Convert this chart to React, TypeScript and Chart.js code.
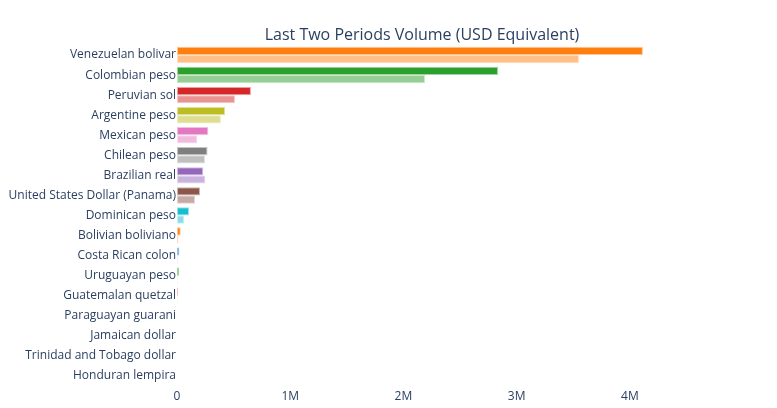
import { useEffect, useRef } from "react";
import Chart from "chart.js/auto";

const currencies = [
  "Venezuelan bolivar",
  "Colombian peso",
  "Peruvian sol",
  "Argentine peso",
  "Mexican peso",
  "Chilean peso",
  "Brazilian real",
  "United States Dollar (Panama)",
  "Dominican peso",
  "Bolivian boliviano",
  "Costa Rican colon",
  "Uruguayan peso",
  "Guatemalan quetzal",
  "Paraguayan guarani",
  "Jamaican dollar",
  "Trinidad and Tobago dollar",
  "Honduran lempira",
];

// latest period (darker bar, top of each pair)
const latestVolume = [
  4115000, 2835000, 653000, 424000, 277000, 270000, 232000, 203000, 106000,
  33000, 20000, 18000, 7000, 1500, 800, 500, 400,
];

// previous period (lighter bar)
const previousVolume = [
  3550000, 2190000, 512000, 388000, 180000, 247000, 250000, 159000, 62000,
  13000, 5000, 4000, 3000, 900, 500, 300, 300,
];

const barColors = [
  "255,127,14", "44,160,44", "214,39,40", "188,189,34", "227,119,194",
  "127,127,127", "148,103,189", "140,86,75", "23,190,207", "255,127,14",
  "31,119,180", "44,160,44", "214,39,40", "148,103,189", "140,86,75",
  "227,119,194", "127,127,127",
];

const xTickValues = [0, 1000000, 2000000, 3000000, 4000000];
const xMax = 4310000;

const FONT = "'Open Sans', 'DejaVu Sans', sans-serif";
const INK = "#2a3f5f";

function shortMoney(v: number) {
  if (v === 0) return "0";
  if (Math.abs(v) >= 1e6) return v / 1e6 + "M";
  if (Math.abs(v) >= 1e3) return v / 1e3 + "k";
  return String(v);
}

export default function App() {
  const canvasRef = useRef<HTMLCanvasElement | null>(null);
  const chartRef = useRef<Chart | null>(null);

  useEffect(() => {
    document.body.style.margin = "0";
    const canvas = canvasRef.current;
    if (!canvas) return;
    if (chartRef.current) chartRef.current.destroy();

    chartRef.current = new Chart(canvas, {
      type: "bar",
      data: {
        labels: currencies,
        datasets: [
          {
            label: "Latest period",
            data: latestVolume,
            backgroundColor: barColors.map((c) => `rgb(${c})`),
            borderColor: barColors.map((c) => `rgba(${c},0.45)`),
            borderWidth: 1,
            borderSkipped: false,
          },
          {
            label: "Previous period",
            data: previousVolume,
            backgroundColor: barColors.map((c) => `rgba(${c},0.5)`),
            borderColor: barColors.map((c) => `rgba(${c},0.25)`),
            borderWidth: 1,
            borderSkipped: false,
          },
        ],
      },
      options: {
        indexAxis: "y",
        animation: false,
        responsive: true,
        maintainAspectRatio: false,
        layout: { padding: { top: 45, right: 112, bottom: 0, left: 0 } },
        datasets: { bar: { categoryPercentage: 0.82, barPercentage: 1 } },
        plugins: {
          legend: { display: false },
          title: { display: false },
          tooltip: { enabled: false },
        },
        scales: {
          x: {
            min: 0,
            max: xMax,
            grid: { display: false, drawTicks: false },
            border: { display: false },
            afterBuildTicks: (scale) => {
              scale.ticks = xTickValues.map((value) => ({ value }));
            },
            afterFit: (scale) => {
              scale.height = 22;
            },
            ticks: {
              padding: 3,
              color: INK,
              font: { family: FONT, size: 12 },
              maxRotation: 0,
              callback: (value) => shortMoney(Number(value)),
            },
          },
          y: {
            grid: { display: false, drawTicks: false },
            border: { display: false },
            afterFit: (scale) => {
              scale.width = 177;
            },
            ticks: {
              padding: 1,
              color: INK,
              font: { family: FONT, size: 12 },
              autoSkip: false,
            },
          },
        },
      },
    });

    return () => {
      if (chartRef.current) {
        chartRef.current.destroy();
        chartRef.current = null;
      }
    };
  }, []);

  return (
    <div style={{ position: "relative", width: 777, height: 408, background: "#fff" }}>
      <div
        style={{
          position: "absolute",
          top: 24,
          left: 422,
          transform: "translateX(-50%)",
          whiteSpace: "nowrap",
          fontFamily: FONT,
          fontSize: 16,
          lineHeight: "20px",
          color: INK,
        }}
      >
        Last Two Periods Volume (USD Equivalent)
      </div>
      <canvas ref={canvasRef} />
    </div>
  );
}
